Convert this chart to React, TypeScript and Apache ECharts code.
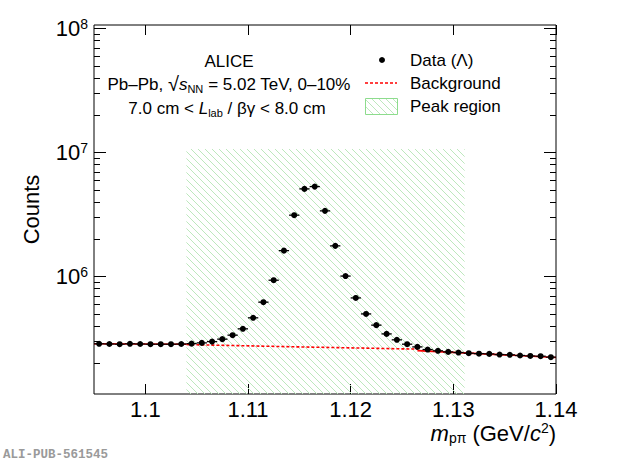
import React, { useEffect, useRef } from "react";
import * as echarts from "echarts";

// ---- data ----
const massCenters = [
  1.0955, 1.0965, 1.0975, 1.0985, 1.0995, 1.1005, 1.1015, 1.1025, 1.1035, 1.1045,
  1.1055, 1.1065, 1.1075, 1.1085, 1.1095, 1.1105, 1.1115, 1.1125, 1.1135, 1.1145,
  1.1155, 1.1165, 1.1175, 1.1185, 1.1195, 1.1205, 1.1215, 1.1225, 1.1235, 1.1245,
  1.1255, 1.1265, 1.1275, 1.1285, 1.1295, 1.1305, 1.1315, 1.1325, 1.1335, 1.1345,
  1.1355, 1.1365, 1.1375, 1.1385, 1.1395,
];
const counts = [
  2.87e5, 2.86e5, 2.85e5, 2.87e5, 2.86e5, 2.85e5, 2.85e5, 2.85e5, 2.86e5, 2.88e5,
  2.92e5, 2.99e5, 3.13e5, 3.37e5, 3.79e5, 4.65e5, 6.22e5, 9.35e5, 1.62e6, 3.13e6,
  5.1e6, 5.32e6, 3.39e6, 1.77e6, 1.01e6, 6.73e5, 5.0e5, 4.06e5, 3.45e5, 3.09e5,
  2.85e5, 2.71e5, 2.58e5, 2.52e5, 2.47e5, 2.44e5, 2.41e5, 2.39e5, 2.38e5, 2.35e5,
  2.34e5, 2.31e5, 2.29e5, 2.28e5, 2.24e5,
];
const binHalfWidth = 0.0005;

const bgLeftX = [1.095, 1.104];
const bgLeftY = [2.87e5, 2.85e5];
const bgMidX = [1.104, 1.115, 1.1265];
const bgMidY = [2.83e5, 2.71e5, 2.6e5];
const bgRightX = [1.1265, 1.13, 1.135, 1.14];
const bgRightY = [2.53e5, 2.447e5, 2.336e5, 2.223e5];

const peakRange = [1.104, 1.1311];
const peakTop = 1.07e7;

const xMin = 1.095;
const xMax = 1.14;
const yMin = 1.13e5;
const yMax = 1.07e8;
const xTicks = [1.1, 1.11, 1.12, 1.13, 1.14];
const yMajor = [1e6, 1e7, 1e8];
const yMinor = [
  2e5, 3e5, 4e5, 5e5, 6e5, 7e5, 8e5, 9e5,
  2e6, 3e6, 4e6, 5e6, 6e6, 7e6, 8e6, 9e6,
  2e7, 3e7, 4e7, 5e7, 6e7, 7e7, 8e7, 9e7,
];

const FONT = "'Liberation Sans', Arial, Helvetica, sans-serif";

function makeHatch() {
  const s = 7;
  const cv = document.createElement("canvas");
  cv.width = s;
  cv.height = s;
  const ctx = cv.getContext("2d")!;
  ctx.strokeStyle = "#bde8bd";
  ctx.lineWidth = 1;
  ctx.beginPath();
  ctx.moveTo(-1, -1);
  ctx.lineTo(s + 1, s + 1);
  ctx.moveTo(-1, s - 1);
  ctx.lineTo(1, s + 1);
  ctx.moveTo(s - 1, -1);
  ctx.lineTo(s + 1, 1);
  ctx.stroke();
  return { image: cv.toDataURL(), repeat: "repeat", imageWidth: s, imageHeight: s };
}

export default function App() {
  const ref = useRef<HTMLDivElement>(null);
  useEffect(() => {
    document.body.style.margin = "0";
    const chart = echarts.init(ref.current!, null, { renderer: "svg" });
    const hatch = makeHatch();

    const yBase = (pos: string) => ({
      type: "log",
      logBase: 10,
      min: yMin,
      max: yMax,
      position: pos,
      axisLine: { show: false },
      splitLine: { show: false },
      minorTick: { show: false },
      minorSplitLine: { show: false },
    });

    const supRich = {
      b: { fontSize: 22, lineHeight: 24, fontFamily: FONT, color: "#000" },
      s: { fontSize: 14, lineHeight: 10, verticalAlign: "top", fontFamily: FONT, color: "#000" },
    };

    const option: any = {
      animation: false,
      backgroundColor: "#fff",
      grid: {
        left: 94,
        right: 64,
        top: 25,
        bottom: 73,
        show: true,
        borderColor: "#000",
        borderWidth: 1,
        backgroundColor: "transparent",
        containLabel: false,
        outerBoundsMode: "none",
      },
      xAxis: [
        {
          type: "value",
          min: xMin,
          max: xMax,
          position: "bottom",
          axisLine: { show: false },
          splitLine: { show: false },
          axisTick: { show: true, inside: true, length: 10, customValues: xTicks, lineStyle: { color: "#000" } },
          axisLabel: {
            show: true,
            customValues: xTicks,
            margin: 4,
            fontSize: 22,
            fontFamily: FONT,
            color: "#000",
            formatter: (v: number) => String(v),
          },
          name: "{i|m}{sub|pπ}{n| (GeV/}{i|c}{sup|2}{n|)}",
          nameLocation: "end",
          nameGap: 0,
          nameMoveOverlap: false,
          nameTextStyle: {
            align: "right",
            verticalAlign: "top",
            padding: [27, 0, 0, 0],
            fontFamily: FONT,
            fontSize: 22,
            color: "#000",
            rich: {
              i: { fontSize: 22, fontStyle: "italic", lineHeight: 24, fontFamily: FONT, color: "#000" },
              n: { fontSize: 22, lineHeight: 24, fontFamily: FONT, color: "#000" },
              sub: { fontSize: 14, lineHeight: 10, verticalAlign: "bottom", fontFamily: FONT, color: "#000" },
              sup: { fontSize: 14, lineHeight: 10, verticalAlign: "top", fontFamily: FONT, color: "#000" },
            },
          },
        },
        {
          type: "value",
          min: xMin,
          max: xMax,
          position: "top",
          axisLine: { show: false },
          splitLine: { show: false },
          axisTick: { show: true, inside: true, length: 10, customValues: xTicks, lineStyle: { color: "#000" } },
          axisLabel: { show: false },
        },
      ],
      yAxis: [
        {
          ...yBase("left"),
          axisTick: { show: true, inside: true, length: 12, customValues: yMajor, lineStyle: { color: "#000" } },
          axisLabel: {
            show: true,
            customValues: yMajor,
            margin: 6,
            formatter: (v: number) => `{b|10}{s|${Math.round(Math.log10(v))}}`,
            rich: supRich,
          },
          name: "Counts",
          nameLocation: "middle",
          nameGap: 52,
          nameMoveOverlap: false,
          nameTextStyle: { fontSize: 22, fontFamily: FONT, color: "#000" },
        },
        {
          ...yBase("left"),
          axisTick: { show: true, inside: true, length: 6, customValues: yMinor, lineStyle: { color: "#000" } },
          axisLabel: { show: false },
        },
        {
          ...yBase("right"),
          axisTick: { show: true, inside: true, length: 12, customValues: yMajor, lineStyle: { color: "#000" } },
          axisLabel: { show: false },
        },
        {
          ...yBase("right"),
          axisTick: { show: true, inside: true, length: 6, customValues: yMinor, lineStyle: { color: "#000" } },
          axisLabel: { show: false },
        },
      ],
      series: [
        {
          type: "custom",
          name: "Peak region",
          xAxisIndex: 0,
          yAxisIndex: 0,
          z: 1,
          silent: true,
          encode: { x: [0, 1], y: 2 },
          data: [[peakRange[0], peakRange[1], peakTop]],
          clip: true,
          renderItem: (_p: any, api: any) => {
            const tl = api.coord([api.value(0), api.value(2)]);
            const br = api.coord([api.value(1), yMin]);
            return {
              type: "rect",
              shape: { x: tl[0], y: tl[1], width: br[0] - tl[0], height: br[1] - tl[1] },
              style: { fill: hatch, stroke: "none" },
            };
          },
        },
        {
          type: "line",
          name: "Background fit L",
          xAxisIndex: 0,
          yAxisIndex: 0,
          z: 3,
          symbol: "none",
          data: bgLeftX.map((x, i) => [x, bgLeftY[i]]),
          lineStyle: { color: "#ff0000", width: 1.6, type: "solid" },
        },
        {
          type: "line",
          name: "Background",
          xAxisIndex: 0,
          yAxisIndex: 0,
          z: 3,
          symbol: "none",
          data: bgMidX.map((x, i) => [x, bgMidY[i]]),
          lineStyle: { color: "#ff0000", width: 1.6, type: [3, 2] },
        },
        {
          type: "line",
          name: "Background fit R",
          xAxisIndex: 0,
          yAxisIndex: 0,
          z: 3,
          symbol: "none",
          data: bgRightX.map((x, i) => [x, bgRightY[i]]),
          lineStyle: { color: "#ff0000", width: 1.6, type: "solid" },
        },
        {
          type: "custom",
          name: "Data (Λ)",
          xAxisIndex: 0,
          yAxisIndex: 0,
          z: 5,
          data: massCenters.map((m, i) => [m, counts[i]]),
          renderItem: (_p: any, api: any) => {
            const x = api.value(0);
            const y = api.value(1);
            const l = api.coord([x - binHalfWidth, y]);
            const r = api.coord([x + binHalfWidth, y]);
            const c = api.coord([x, y]);
            return {
              type: "group",
              children: [
                { type: "line", shape: { x1: l[0], y1: l[1], x2: r[0], y2: r[1] }, style: { stroke: "#000", lineWidth: 1.3 } },
                { type: "circle", shape: { cx: c[0], cy: c[1], r: 3 }, style: { fill: "#000" } },
              ],
            };
          },
        },
      ],
      graphic: [
        {
          type: "text",
          x: 229,
          y: 61,
          style: { text: "ALICE", fontSize: 17, fontFamily: FONT, fill: "#000", align: "center", verticalAlign: "middle" },
        },
        {
          type: "text",
          x: 229,
          y: 84,
          style: {
            text: "{n|Pb–Pb, }{q|√}{i|s}{sub|NN}{n| = 5.02 TeV, 0–10%}",
            align: "center",
            verticalAlign: "middle",
            rich: {
              n: { fontSize: 17, lineHeight: 20, fontFamily: FONT, fill: "#000" },
              q: { fontSize: 20, lineHeight: 20, fontFamily: FONT, fill: "#000" },
              i: { fontSize: 17, lineHeight: 20, fontStyle: "italic", fontFamily: FONT, fill: "#000" },
              sub: { fontSize: 11, lineHeight: 8, verticalAlign: "bottom", fontFamily: FONT, fill: "#000" },
            },
          },
        },
        {
          type: "text",
          x: 227,
          y: 108,
          style: {
            text: "{n|7.0 cm < }{i|L}{sub|lab}{n| / βγ < 8.0 cm}",
            align: "center",
            verticalAlign: "middle",
            rich: {
              n: { fontSize: 17, lineHeight: 20, fontFamily: FONT, fill: "#000" },
              i: { fontSize: 17, lineHeight: 20, fontStyle: "italic", fontFamily: FONT, fill: "#000" },
              sub: { fontSize: 11, lineHeight: 8, verticalAlign: "bottom", fontFamily: FONT, fill: "#000" },
            },
          },
        },
        // legend
        { type: "circle", shape: { cx: 382, cy: 60, r: 3 }, style: { fill: "#000" } },
        {
          type: "text",
          x: 410,
          y: 60,
          style: { text: "Data (Λ)", fontSize: 17, fontFamily: FONT, fill: "#000", align: "left", verticalAlign: "middle" },
        },
        {
          type: "line",
          shape: { x1: 365, y1: 83, x2: 397, y2: 83 },
          style: { stroke: "#ff0000", lineWidth: 1.6, lineDash: [3, 2] },
        },
        {
          type: "text",
          x: 410,
          y: 83,
          style: { text: "Background", fontSize: 17, fontFamily: FONT, fill: "#000", align: "left", verticalAlign: "middle" },
        },
        {
          type: "rect",
          shape: { x: 365.5, y: 98.5, width: 32, height: 16 },
          style: { fill: hatch, stroke: "#8ddc8d", lineWidth: 1 },
        },
        {
          type: "text",
          x: 410,
          y: 106,
          style: { text: "Peak region", fontSize: 17, fontFamily: FONT, fill: "#000", align: "left", verticalAlign: "middle" },
        },
        {
          type: "text",
          x: 3,
          y: 455,
          style: {
            text: "ALI-PUB-561545",
            font: "bold 12.5px 'Liberation Mono', 'DejaVu Sans Mono', monospace",
            fill: "#9a9a9a",
            align: "left",
            verticalAlign: "middle",
          },
        },
      ],
    };
    chart.setOption(option);
    return () => chart.dispose();
  }, []);
  return (
    <div
      ref={ref}
      style={{ position: "fixed", left: 0, top: 0, width: 620, height: 467, background: "#fff" }}
    />
  );
}
